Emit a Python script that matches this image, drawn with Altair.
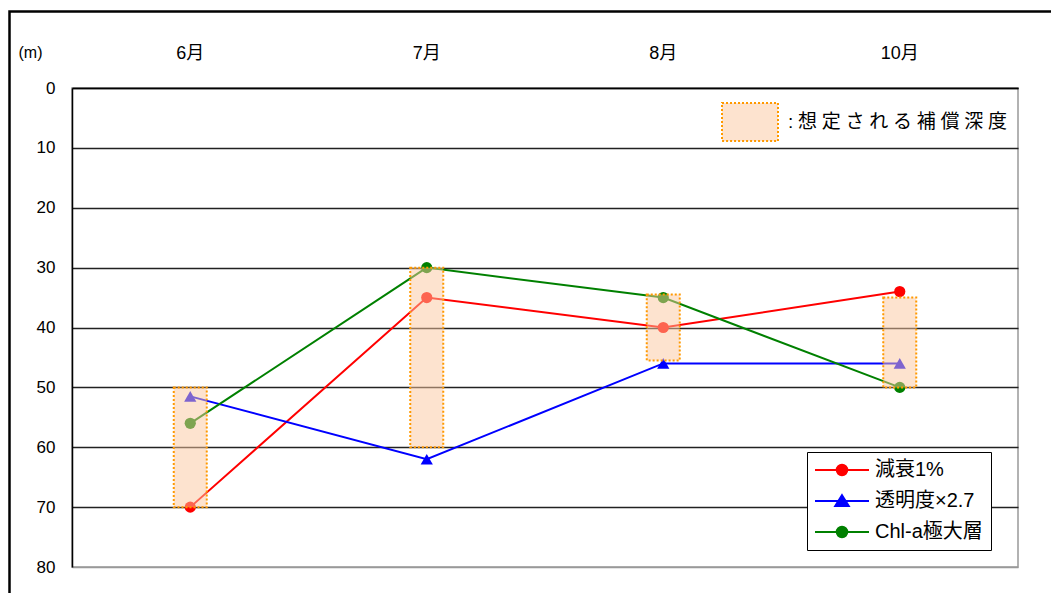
import altair as alt
import pandas as pd

# ---- data ----
months = ["6月", "7月", "8月", "10月"]
series_names = ["減衰1%", "透明度×2.7", "Chl-a極大層"]
attenuation = [70, 35, 40, 34]
transparency = [51.5, 62, 46, 46]
chl_max = [56, 30, 35, 50]
comp_top = [50, 30, 34.5, 35]
comp_bottom = [70, 60, 45.5, 50]
y_ticks = [0, 10, 20, 30, 40, 50, 60, 70, 80]
series_colors = ["#FF0000", "#0000FF", "#008000"]
rect_label = ":\u2005想\u2005定\u2005さ\u2005れ\u2005る\u2005補\u2005償\u2005深\u2005度"

FONT = "Liberation Sans, Noto Sans CJK JP, sans-serif"

rows = []
for name, vals in zip(series_names, [attenuation, transparency, chl_max]):
    for m, v in zip(months, vals):
        rows.append({"series": name, "month": m, "depth": v})
long_df = pd.DataFrame(rows)
rect_df = pd.DataFrame({"month": months, "depth": comp_top, "bottom": comp_bottom,
                        "label": [rect_label] * len(months)})

x_scale = alt.Scale(type="band", domain=months, paddingInner=0, paddingOuter=0)
y_scale = alt.Scale(domain=[0, 80], reverse=True, nice=False, zero=False)
c_scale = alt.Scale(domain=series_names, range=series_colors)

x_axis = alt.Axis(orient="top", title=None, labelAngle=0)
y_axis = alt.Axis(values=y_ticks, title="(m)",
                  gridColor={"condition": {"test": "datum.value === 80",
                                           "value": "#999999"},
                             "value": "#222222"})

x_enc = alt.X("month:N", sort=months, scale=x_scale, axis=x_axis)
y_enc = alt.Y("depth:Q", scale=y_scale, axis=y_axis)

leg_paths = [
    "M-5.4,0H5.4M1.05,0A1.05,1.05,0,1,1,-1.05,0A1.05,1.05,0,1,1,1.05,0Z",
    "M-5.4,0H5.4M0,-1.15L1.35,1L-1.35,1Z",
    "M-5.4,0H5.4M1.05,0A1.05,1.05,0,1,1,-1.05,0A1.05,1.05,0,1,1,1.05,0Z",
]
line_legend = alt.Legend(title=None, orient="none", legendX=735, legendY=364,
                         labelFontSize=20, labelFont=FONT, labelColor="black",
                         symbolSize=100, symbolStrokeWidth=2, symbolOpacity=1,
                         strokeColor="black", fillColor="white", padding=8,
                         symbolOffset=17, labelOffset=23, rowPadding=11, labelLimit=400)
legend_layer = alt.Chart(long_df).transform_filter("false").mark_point(filled=True).encode(
    x=x_enc, y=y_enc,
    color=alt.Color("series:N", scale=c_scale, legend=line_legend),
    shape=alt.Shape("series:N", scale=alt.Scale(domain=series_names, range=leg_paths),
                    legend=line_legend),
    stroke=alt.Stroke("series:N", scale=alt.Scale(domain=series_names, range=series_colors),
                      legend=line_legend),
)

lines = alt.Chart(long_df).mark_line(strokeWidth=2).encode(
    x=x_enc, y=y_enc,
    color=alt.Color("series:N", scale=c_scale, legend=None),
)

circles = alt.Chart(long_df).transform_filter(
    alt.datum.series != series_names[1]
).mark_point(filled=True, shape="circle", size=125, opacity=1).encode(
    x=x_enc, y=y_enc,
    color=alt.Color("series:N", scale=c_scale, legend=None),
)

triangles = alt.Chart(long_df).transform_filter(
    alt.datum.series == series_names[1]
).mark_point(filled=True, shape="triangle-up", size=150, opacity=1).encode(
    x=x_enc, y=y_enc,
    color=alt.Color("series:N", scale=c_scale, legend=None),
)

rect_legend = alt.Legend(title=None, orient="none", legendX=649, legendY=5,
                         labelFontSize=19, labelFont=FONT, labelColor="black",
                         symbolType="M-1,-0.68H1V0.68H-1Z", symbolSize=3136,
                         symbolStrokeColor="#FF9900", symbolStrokeWidth=2,
                         symbolDash=[2, 2], padding=0, labelOffset=9, labelLimit=400)
bars = alt.Chart(rect_df).mark_bar(
    size=33, stroke="#FF9900", strokeWidth=2, strokeDash=[2, 2]
).encode(
    x=x_enc,
    y=y_enc,
    y2="bottom:Q",
    fill=alt.Fill("label:N",
                  scale=alt.Scale(domain=[rect_label], range=["rgba(251,200,160,0.5)"]),
                  legend=rect_legend),
)

frame = alt.Chart(pd.DataFrame({"f": [0]})).mark_rect(
    filled=False, stroke="black", strokeWidth=2.5
).encode(x=alt.value(-62.5), x2=alt.value(1100), y=alt.value(-76.5), y2=alt.value(700))

chart = alt.layer(legend_layer, lines, circles, triangles, bars, frame).properties(
    width=946, height=479,
    autosize=alt.AutoSizeParams(type="none"),
    padding={"left": 64, "top": 80, "right": 33, "bottom": 26},
).configure(
    background="white"
).configure_view(
    stroke="#999999", strokeWidth=1.5
).configure_axisX(
    labelFontSize=18, labelFont=FONT, labelColor="black", labelPadding=26,
    ticks=False, domainColor="black", domainWidth=1.5, grid=False,
).configure_axisY(
    titleAngle=0, titleX=-42, titleY=-36, titleFontSize=16, titleFontWeight="normal",
    titleFont=FONT, titleAlign="center", titleBaseline="middle", titleColor="black",
    labelFontSize=17, labelFont=FONT, labelColor="black", labelPadding=17,
    ticks=False, domainColor="black", domainWidth=1.5, grid=True, gridWidth=1.3,
)

chart.save("out.html", embed_options={"renderer": "svg", "actions": False})
